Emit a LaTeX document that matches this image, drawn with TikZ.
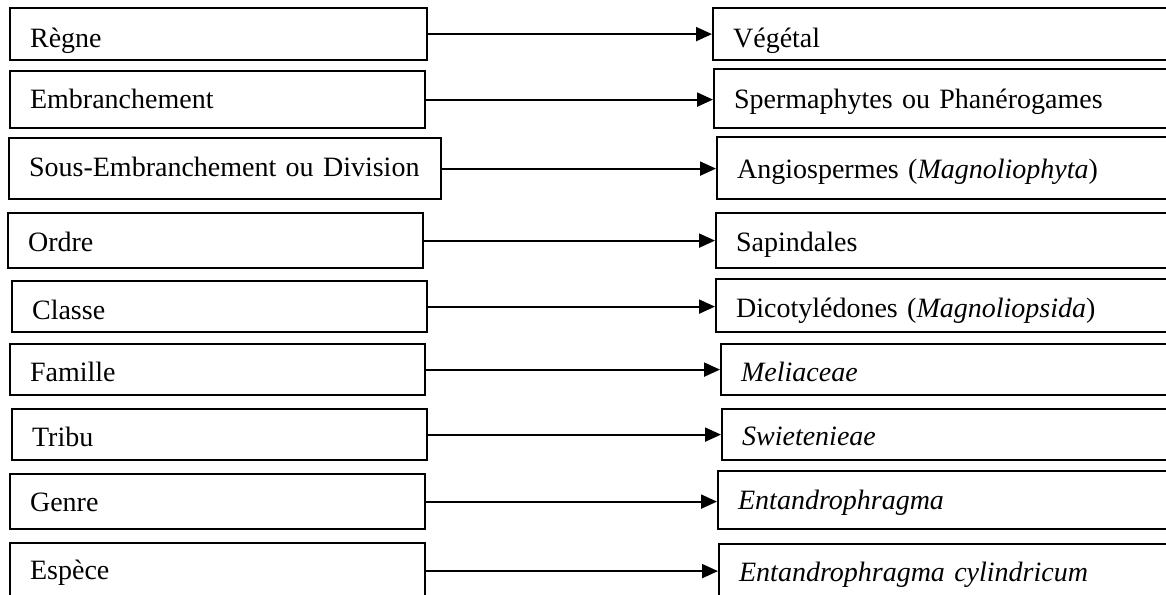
\documentclass[tikz,border=0pt]{standalone}
\usepackage{fontspec}
\setmainfont{Liberation Serif}
\usetikzlibrary{arrows.meta}
\tikzset{
  box/.style={draw, line width=2.2pt, rectangle, anchor=north west, inner xsep=20pt, inner ysep=0pt,
    align=left, text depth=2pt, font=\fontsize{28}{32}\selectfont},
  arr/.style={line width=2pt, -{Triangle[length=16pt,width=14pt]}}
}
\begin{document}
\begin{tikzpicture}[x=1pt,y=-1pt]
\useasboundingbox (0,0) rectangle (1166,594);
\clip (0,0) rectangle (1166,594);
% left column
\node[box, text width=377pt, minimum height=52pt, text height=28pt] (L1) at (9,7) {Règne};
\node[box, text width=375pt, minimum height=57pt, text height=19pt] (L2) at (9,70) {Embranchement};
\node[box, text width=392pt, minimum height=61pt, text height=17pt] (L3) at (8,137) {Sous-Embranchement ou Division};
\node[box, text width=375pt, minimum height=55pt, text height=23pt] (L4) at (7,212) {Ordre};
\node[box, text width=375pt, minimum height=51pt, text height=27pt] (L5) at (11,280) {Classe};
\node[box, text width=375pt, minimum height=51pt, text height=25pt] (L6) at (9,343) {Famille};
\node[box, text width=375pt, minimum height=51pt, text height=25pt] (L7) at (11,408) {Tribu};
\node[box, text width=375pt, minimum height=55pt, text height=21pt] (L8) at (9,473) {Genre};
\node[box, text width=375pt, minimum height=56pt, text height=18pt] (L9) at (9,542) {Espèce};
% right column
\node[box, text width=428pt, minimum height=52pt, text height=28pt] (R1) at (712,7) {Végétal};
\node[box, text width=427pt, minimum height=59pt, text height=21pt] (R2) at (713,68) {Spermaphytes ou Phanérogames};
\node[box, text width=424pt, minimum height=62pt, text height=22pt] (R3) at (716,136) {Angiospermes (\textit{Magnoliophyta})};
\node[box, text width=425pt, minimum height=55pt, text height=23pt] (R4) at (715,212) {Sapindales};
\node[box, text width=425pt, minimum height=53pt, text height=25pt] (R5) at (715,278) {Dicotylédones (\textit{Magnoliopsida})};
\node[box, text width=420pt, minimum height=51pt, text height=25pt] (R6) at (720,343) {\textit{Meliaceae}};
\node[box, text width=419pt, minimum height=51pt, text height=23pt] (R7) at (721,408) {\textit{Swietenieae}};
\node[box, text width=423pt, minimum height=58pt, text height=20pt] (R8) at (717,470) {\textit{Entandrophragma}};
\node[box, text width=422pt, minimum height=55pt, text height=21pt] (R9) at (718,543) {\textit{Entandrophragma cylindricum}};
% arrows
\foreach \i in {1,...,9}{
  \draw[arr] (L\i.east) -- (L\i.east -| R\i.west);
}
\end{tikzpicture}
\end{document}
